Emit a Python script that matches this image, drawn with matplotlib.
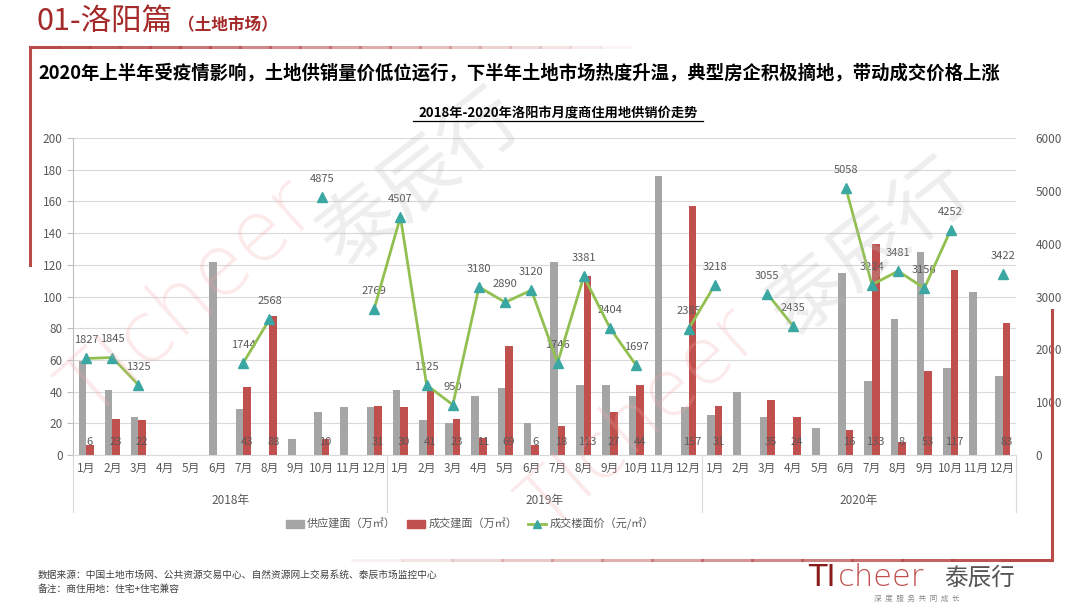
import numpy as np
import matplotlib.pyplot as plt
import matplotlib.transforms as mtransforms
from matplotlib.lines import Line2D
from matplotlib.patches import Patch

plt.rcParams['font.family'] = ['Noto Sans CJK SC', 'DejaVu Sans']

# data
years = ['2018年', '2019年', '2020年']
months = ['%d月' % m for m in range(1, 13)] * 3
supply = [59, 41, 24, 0, 0, 122, 29, 0, 10, 27, 30, 30,
          41, 22, 20, 37, 42, 20, 122, 44, 44, 37, 176, 30,
          25, 40, 24, 0, 17, 115, 47, 86, 128, 55, 103, 50]
deal = [6, 23, 22, 0, 0, 0, 43, 88, 0, 10, 0, 31,
        30, 41, 23, 11, 69, 6, 18, 113, 27, 44, 0, 157,
        31, 0, 35, 24, 0, 16, 133, 8, 53, 117, 0, 83]
nan = np.nan
price = [1827, 1845, 1325, nan, nan, nan, 1744, 2568, nan, 4875, nan, 2769,
         4507, 1325, 950, 3180, 2890, 3120, 1746, 3381, 2404, 1697, nan, 2385,
         3218, nan, 3055, 2435, nan, 5058, 3224, 3481, 3156, 4252, nan, 3422]

GRAY = '#A5A5A5'
RED = '#C0504D'
GREEN = '#92C050'
TEAL = '#3BA7A3'
TXT = '#595959'
DARKRED = '#A52A2A'

W, H = 1080, 607
fx = lambda x: x / W
fy = lambda y: 1 - y / H

fig = plt.figure(figsize=(10.8, 6.07), dpi=100)
fig.patch.set_facecolor('white')

# faint watermarks
for (x, y, s, c, rot, fs) in [(190, 300, 'TIcheer', '#F4A6A6', 42, 60),
                              (420, 180, '泰辰行', '#BBBBBB', 38, 56),
                              (640, 420, 'TIcheer', '#F4A6A6', 42, 56),
                              (870, 250, '泰辰行', '#BBBBBB', 38, 56)]:
    fig.text(fx(x), fy(y), s, color=c, alpha=0.25, rotation=rot, fontsize=fs,
             ha='center', va='center', family=['DejaVu Sans', 'Noto Sans CJK SC'],
             fontweight='light', zorder=0)

# header
fig.text(fx(36), fy(21), '01-洛阳篇', color=DARKRED, fontsize=22, va='center', ha='left')
fig.text(fx(178), fy(25), '（土地市场）', color=DARKRED, fontsize=12, va='center', ha='left',
         fontweight='bold')

# decorative frame
for i in range(20):
    x0 = 30 + i * 30
    fig.add_artist(Line2D([fx(x0), fx(x0 + 30)], [fy(47), fy(47)], color='#B84A4A',
                          lw=2.2, alpha=max(0.0, 1 - i / 20)))
fig.add_artist(Line2D([fx(30), fx(30)], [fy(47), fy(265)], color='#B84A4A', lw=2.2))
fig.add_artist(Line2D([fx(1052), fx(1052)], [fy(310), fy(560)], color='#B84A4A', lw=2.2))
for i in range(14):
    x1 = 1052 - i * 50
    fig.add_artist(Line2D([fx(x1 - 50), fx(x1)], [fy(560), fy(560)], color='#B84A4A',
                          lw=2.2, alpha=max(0.0, 1 - i / 14)))

fig.text(fx(38), fy(73), '2020年上半年受疫情影响，土地供销量价低位运行，下半年土地市场热度升温，典型房企积极摘地，带动成交价格上涨',
         fontsize=13.2, fontweight='bold', color='black', va='center', ha='left')

# chart title with underline
fig.text(fx(558), fy(113), '2018年-2020年洛阳市月度商住用地供销价走势', fontsize=9.5,
         fontweight='bold', color='black', ha='center', va='center')
fig.add_artist(Line2D([fx(413), fx(703)], [fy(121), fy(121)], color='black', lw=0.9))

ax = fig.add_axes([fx(73), fy(455), (1016 - 73) / W, (455 - 138) / H])
ax.patch.set_alpha(0)
x = np.arange(len(months))
bw = 0.29
ax.bar(x - bw / 2, supply, bw, color=GRAY, zorder=2)
ax.bar(x + bw / 2, deal, bw, color=RED, zorder=2)
for xi, v in zip(x, deal):
    if v > 0:
        ax.text(xi + bw / 2, 8, str(v), ha='center', va='center', fontsize=8, color=TXT, zorder=5)

ax.set_xlim(-0.5, 35.5)
ax.set_ylim(0, 200)
ax.set_yticks(range(0, 201, 20))
ax.grid(axis='y', color='#D9D9D9', lw=0.8, zorder=0)
ax.set_axisbelow(True)
for s in ['top', 'right']:
    ax.spines[s].set_visible(False)
ax.spines['left'].set_color('#BFBFBF')
ax.spines['bottom'].set_color('#D9D9D9')
ax.tick_params(axis='y', colors='#BFBFBF', labelcolor=TXT, labelsize=8.5, length=4)
ax.set_xticks(x)
ax.set_xticklabels(months, fontsize=8.5, color=TXT)
ax.tick_params(axis='x', length=0, pad=5)

trans = mtransforms.blended_transform_factory(ax.transData, ax.transAxes)
for i, yr in enumerate(years):
    ax.text(5.5 + 12 * i, -0.145, yr, transform=trans, ha='center', va='center',
            fontsize=8.5, color=TXT)
for b in [-0.5, 11.5, 23.5, 35.5]:
    ax.add_artist(Line2D([b, b], [0, -0.18], transform=trans, color='#D9D9D9', lw=0.8,
                         clip_on=False))

ax2 = ax.twinx()
ax2.set_ylim(0, 6000)
ax2.set_yticks(range(0, 6001, 1000))
for s in ax2.spines.values():
    s.set_visible(False)
ax2.tick_params(axis='y', length=0, labelsize=8.5, labelcolor=TXT, pad=14)
ax2.plot(x, price, color=GREEN, lw=2, marker='^', markersize=7.5,
         markerfacecolor=TEAL, markeredgecolor=TEAL, zorder=4)
for xi, v in zip(x, price):
    if not np.isnan(v):
        ax2.annotate(str(int(v)), (xi, v), xytext=(0, 13), textcoords='offset points',
                     ha='center', va='center', fontsize=8, color=TXT)

handles = [Patch(color=GRAY), Patch(color=RED),
           Line2D([], [], color=GREEN, lw=2, marker='^', markersize=6,
                  markerfacecolor=TEAL, markeredgecolor=TEAL)]
labels = ['供应建面（万㎡）', '成交建面（万㎡）', '成交楼面价（元/㎡）']
fig.legend(handles, labels, loc='center', bbox_to_anchor=(fx(470), fy(524)), ncol=3,
           frameon=False, fontsize=8, handlelength=1.6, handleheight=0.8,
           columnspacing=1.0, handletextpad=0.3, labelcolor=TXT)

# footer
fig.text(fx(38), fy(575), '数据来源：中国土地市场网、公共资源交易中心、自然资源网上交易系统、泰辰市场监控中心',
         fontsize=7, color='#404040', va='center')
fig.text(fx(38), fy(589), '备注：商住用地：住宅+住宅兼容', fontsize=7, color='#404040', va='center')

# logo
fig.text(fx(808), fy(578), 'TI', fontsize=22, color='#8B1A1A', va='center', ha='left',
         family='DejaVu Sans')
fig.text(fx(838), fy(578), 'cheer', fontsize=22, color='#C0504D', va='center', ha='left',
         family='DejaVu Sans', fontweight='light')
fig.text(fx(944), fy(578), '泰辰行', fontsize=17, color='#555555', va='center', ha='left')
fig.text(fx(917), fy(599), '深  度  服  务  共  同  成  长', fontsize=5.5, color='#888888',
         va='center', ha='center')

fig.savefig('out.png', dpi=100)
